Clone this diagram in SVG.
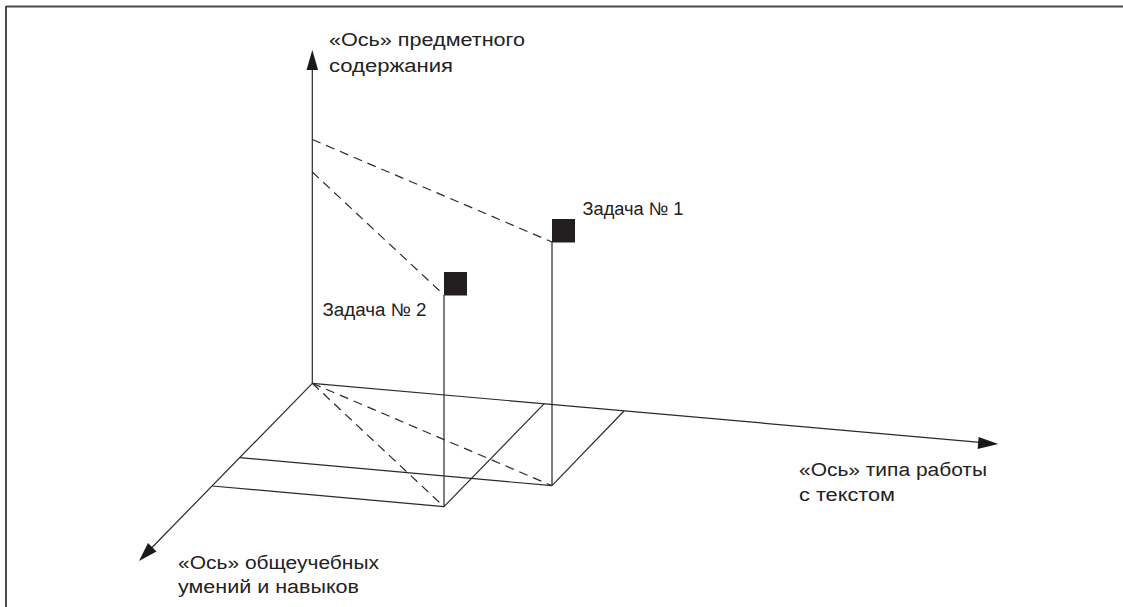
<svg xmlns="http://www.w3.org/2000/svg" width="1123" height="607" viewBox="0 0 1123 607">
<style>
.ln{stroke:#2a2a2a;stroke-width:1.2;fill:none}
.ds{stroke:#2a2a2a;stroke-width:1.2;fill:none;stroke-dasharray:9 6}
.fr{stroke:#4a4a4a;stroke-width:2;fill:none}
text{font-family:"Liberation Sans",Arial,sans-serif;font-size:18px;fill:#222}
.sq{fill:#231f20}
.ah{fill:#1a1a1a}
</style>
<rect width="1123" height="607" fill="#fff"/>
<g id="frame">
<line class="fr" x1="6" y1="6.5" x2="1123" y2="6.5"/>
<line class="fr" x1="6" y1="6" x2="6" y2="607"/>
</g>
<g id="connectors">
<line class="ln" x1="312.3" y1="383.3" x2="312.3" y2="68"/>
<line class="ln" x1="312.3" y1="383.3" x2="980" y2="442.3"/>
<line class="ln" x1="312.3" y1="383.3" x2="152" y2="547.5"/>
<line class="ds" x1="312.3" y1="139.5" x2="552" y2="242"/>
<line class="ds" x1="312.3" y1="172" x2="444" y2="295"/>
<line class="ln" x1="552" y1="242" x2="552" y2="485.7"/>
<line class="ln" x1="444" y1="295" x2="444" y2="506.7"/>
<line class="ds" x1="312.3" y1="383.3" x2="444" y2="506.7"/>
<line class="ds" x1="312.3" y1="383.3" x2="552" y2="485.7"/>
<line class="ln" x1="444" y1="506.7" x2="544.3" y2="403.7"/>
<line class="ln" x1="552" y1="485.7" x2="624" y2="411"/>
<line class="ln" x1="240" y1="457.7" x2="552" y2="485.7"/>
<line class="ln" x1="212.3" y1="486" x2="444" y2="506.7"/>
<polygon class="ah" points="312.3,50 306.5,70 318.1,70"/>
<polygon class="ah" points="998.3,444 978.6,437 977.6,449"/>
<polygon class="ah" points="139,561 148,543 156.5,551.5"/>
</g>
<g id="task1">
<rect class="sq" x="552" y="219" width="23" height="23.5"/>
<text x="582.5" y="215" textLength="101" lengthAdjust="spacingAndGlyphs">Задача № 1</text>
</g>
<g id="task2">
<rect class="sq" x="444" y="272" width="23" height="23.5"/>
<text x="322.5" y="316" textLength="104" lengthAdjust="spacingAndGlyphs">Задача № 2</text>
</g>
<g id="axis-content">
<text x="329" y="46" textLength="196" lengthAdjust="spacingAndGlyphs">«Ось» предметного</text>
<text x="329" y="71.5" textLength="124" lengthAdjust="spacingAndGlyphs">содержания</text>
</g>
<g id="axis-work">
<text x="799" y="476" textLength="188" lengthAdjust="spacingAndGlyphs">«Ось» типа работы</text>
<text x="799" y="501" textLength="96" lengthAdjust="spacingAndGlyphs">с текстом</text>
</g>
<g id="axis-skills">
<text x="178" y="569" textLength="201" lengthAdjust="spacingAndGlyphs">«Ось» общеучебных</text>
<text x="178" y="593" textLength="181" lengthAdjust="spacingAndGlyphs">умений и навыков</text>
</g>
</svg>
